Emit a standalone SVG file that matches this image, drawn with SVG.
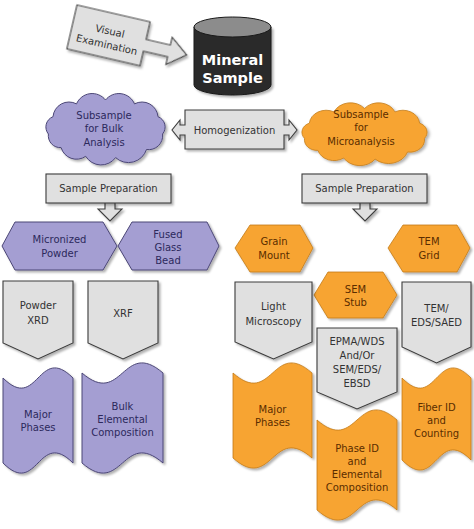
<svg xmlns="http://www.w3.org/2000/svg" xmlns:xlink="http://www.w3.org/1999/xlink" width="474" height="529" viewBox="0 0 474 529">
<style>
  text { font-family: "DejaVu Sans", "Liberation Sans", sans-serif; font-size: 10px; text-anchor: middle; }
  .gray { fill: #e0e0e0; stroke: #3c3c3c; stroke-width: 1.1; filter: url(#sh); }
  .purple { fill: #a49ed2; stroke: #4b4676; stroke-width: 1; filter: url(#sh); }
  .orange { fill: #f7a433; stroke: #c27a18; stroke-width: 0.8; filter: url(#sh); }
  .tg { fill: #333333; }
  .tp { fill: #2c295c; }
  .to { fill: #5a2d00; }
  .tw { fill: #ffffff; font-weight: bold; font-size: 14.5px; }
</style>
<defs>
  <filter id="sh" x="-10%" y="-10%" width="130%" height="130%">
    <feDropShadow dx="2" dy="2" stdDeviation="1.3" flood-color="#000" flood-opacity="0.3"/>
  </filter>
  <path id="cloud" d="M-57.1,5 A11,11 0 0 1 -52.5,-12.3 A16,16 0 0 1 -29,-25.1 A17,17 0 0 1 0,-29 A17,17 0 0 1 29,-25.1 A16,16 0 0 1 52.5,-12.3 A11,11 0 0 1 57.1,5 A14,14 0 0 1 41,20.5 A19,19 0 0 1 10.1,28.6 A18,18 0 0 1 -19.8,27.3 A16,16 0 0 1 -44.4,18.6 A12,12 0 0 1 -57.1,5 Z"/>
</defs>
<rect width="474" height="529" fill="#ffffff"/>

<g id="connectors">
  <path class="gray" d="M105,203 V209 H98 L110,221 L122,209 H115 V203"/>
  <path class="gray" d="M360,203 V209 H353 L365,221 L377,209 H370 V203"/>
</g>

<g id="visual-examination" transform="translate(77,5) rotate(13)">
  <path class="gray" d="M0,0 H75 V18 H100 V10 L118,24 L100,38 V30 H75 V45 H0 Z"/>
  <text class="tg" x="38" y="21.5">Visual</text>
  <text class="tg" x="38" y="35.5">Examination</text>
</g>

<g id="mineral-sample">
  <path d="M194,27 V85 A38.5,10 0 0 0 271,85 V27 Z" fill="#2b2b2b" stroke="#1a1a1a" filter="url(#sh)"/>
  <ellipse cx="232.5" cy="27" rx="38.5" ry="10" fill="#8c8c8c" stroke="#1a1a1a"/>
  <text class="tw" x="232.5" y="65">Mineral</text>
  <text class="tw" x="232.5" y="83">Sample</text>
</g>

<g id="homogenization">
  <path class="gray" d="M185,110 H284 V125 H289 V120 L297,130 L289,140 V135 H284 V149 H185 V135 H180 V140 L172,130 L180,120 V125 H185 Z"/>
  <text class="tg" x="234.5" y="133.5">Homogenization</text>
</g>

<g id="subsample-bulk">
  <use xlink:href="#cloud" href="#cloud" class="purple" transform="translate(105.5,129)"/>
  <text class="tp" x="104" y="118.5">Subsample</text>
  <text class="tp" x="104" y="131.5">for Bulk</text>
  <text class="tp" x="104" y="145.5">Analysis</text>
</g>

<g id="subsample-micro">
  <use xlink:href="#cloud" href="#cloud" class="orange" transform="translate(364.5,134) scale(1.05,0.88)"/>
  <text class="to" x="361" y="117.5">Subsample</text>
  <text class="to" x="361" y="130.5">for</text>
  <text class="to" x="361" y="144.5">Microanalysis</text>
</g>

<g id="sample-prep-left">
  <rect class="gray" x="46" y="174" width="125" height="29"/>
  <text class="tg" x="108.5" y="192">Sample Preparation</text>
</g>

<g id="sample-prep-right">
  <rect class="gray" x="302" y="174" width="125" height="29"/>
  <text class="tg" x="364.5" y="192">Sample Preparation</text>
</g>

<g id="micronized-powder">
  <polygon class="purple" points="2,246 15,222 103,222 117,246 103,270 15,270"/>
  <text class="tp" x="59.5" y="243">Micronized</text>
  <text class="tp" x="59.5" y="256.5">Powder</text>
</g>

<g id="fused-glass-bead">
  <polygon class="purple" points="118,246 132,222 207,222 219,246 207,270 132,270"/>
  <text class="tp" x="168" y="237.5">Fused</text>
  <text class="tp" x="168" y="250.5">Glass</text>
  <text class="tp" x="168" y="263.5">Bead</text>
</g>

<g id="grain-mount">
  <polygon class="orange" points="235,248 250,225 300,225 313,248 300,272 250,272"/>
  <text class="to" x="274" y="245">Grain</text>
  <text class="to" x="274" y="259">Mount</text>
</g>

<g id="tem-grid">
  <polygon class="orange" points="388,248 403,225 457,225 470,248 457,272 403,272"/>
  <text class="to" x="429" y="245">TEM</text>
  <text class="to" x="429" y="259">Grid</text>
</g>

<g id="sem-stub">
  <polygon class="orange" points="314,295 328,272 383,272 397,295 383,318 328,318"/>
  <text class="to" x="355.5" y="292.5">SEM</text>
  <text class="to" x="355.5" y="305.5">Stub</text>
</g>

<g id="powder-xrd">
  <path class="gray" d="M3,281 H73 V343 L38,359 L3,343 Z"/>
  <text class="tg" x="38" y="308.5">Powder</text>
  <text class="tg" x="38" y="323.5">XRD</text>
</g>

<g id="xrf">
  <path class="gray" d="M88,281 H158 V343 L123,359 L88,343 Z"/>
  <text class="tg" x="123" y="316.5">XRF</text>
</g>

<g id="light-microscopy">
  <path class="gray" d="M235,282 H312 V342 L273.5,359 L235,342 Z"/>
  <text class="tg" x="273.5" y="309.5">Light</text>
  <text class="tg" x="273.5" y="324.5">Microscopy</text>
</g>

<g id="tem-eds-saed">
  <path class="gray" d="M402,282 H471 V347 L436.5,363 L402,347 Z"/>
  <text class="tg" x="436.5" y="312">TEM/</text>
  <text class="tg" x="436.5" y="326">EDS/SAED</text>
</g>

<g id="epma">
  <path class="gray" d="M317,328 H397 V392 L357,409 L317,392 Z"/>
  <text class="tg" x="357" y="344.5">EPMA/WDS</text>
  <text class="tg" x="357" y="358.5">And/Or</text>
  <text class="tg" x="357" y="372.5">SEM/EDS/</text>
  <text class="tg" x="357" y="386.5">EBSD</text>
</g>

<g id="major-phases-bulk">
  <path class="purple" d="M3,378 C38,413 38,343 73,378 V463 C38,428 38,498 3,463 Z"/>
  <text class="tp" x="38" y="417.5">Major</text>
  <text class="tp" x="38" y="430.5">Phases</text>
</g>

<g id="bulk-elemental">
  <path class="purple" d="M82,373 C122.5,408 122.5,338 163,373 V463 C122.5,428 122.5,498 82,463 Z"/>
  <text class="tp" x="122.5" y="409.5">Bulk</text>
  <text class="tp" x="122.5" y="422.5">Elemental</text>
  <text class="tp" x="122.5" y="435.5">Composition</text>
</g>

<g id="major-phases-micro">
  <path class="orange" d="M233,373 C272.5,408 272.5,338 312,373 V458 C272.5,423 272.5,493 233,458 Z"/>
  <text class="to" x="272.5" y="412.5">Major</text>
  <text class="to" x="272.5" y="425.5">Phases</text>
</g>

<g id="phase-id">
  <path class="orange" d="M317,420 C357,455 357,385 397,420 V510 C357,475 357,545 317,510 Z"/>
  <text class="to" x="357" y="451.5">Phase ID</text>
  <text class="to" x="357" y="464.5">and</text>
  <text class="to" x="357" y="477.5">Elemental</text>
  <text class="to" x="357" y="490.5">Composition</text>
</g>

<g id="fiber-id">
  <path class="orange" d="M402,378 C436.5,413 436.5,343 471,378 V460 C436.5,425 436.5,495 402,460 Z"/>
  <text class="to" x="436.5" y="410.5">Fiber ID</text>
  <text class="to" x="436.5" y="423.5">and</text>
  <text class="to" x="436.5" y="436.5">Counting</text>
</g>
</svg>
